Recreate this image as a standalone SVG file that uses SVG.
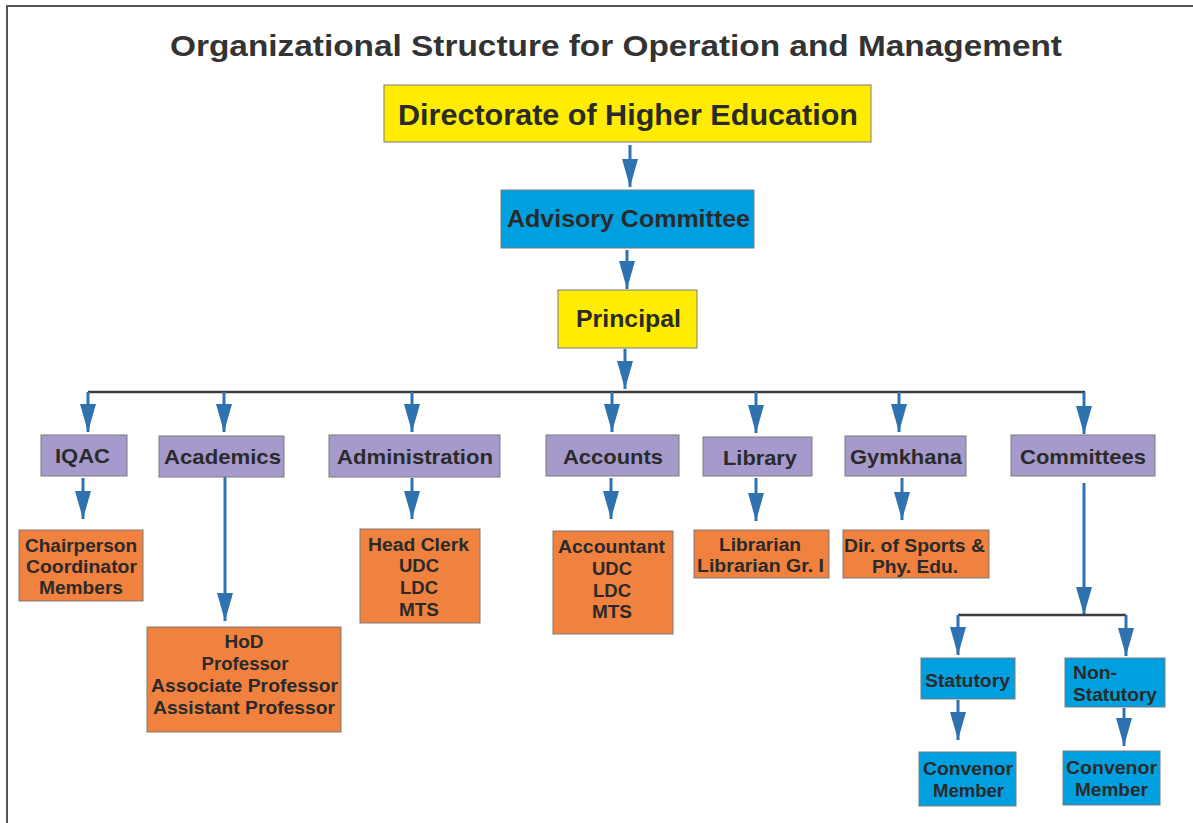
<svg xmlns="http://www.w3.org/2000/svg" width="1193" height="823" viewBox="0 0 1193 823">
  <defs>
    <marker id="arrow" markerUnits="userSpaceOnUse" viewBox="0 0 28 16" refX="28" refY="8" markerWidth="28" markerHeight="16" orient="auto">
      <path d="M0,0 L28,8 L0,16 z" fill="#2E72B0"/>
    </marker>
    <style>
      text { font-family: "Liberation Sans", Arial, sans-serif; font-weight: bold; fill: #2a2a2a; text-anchor: middle; }
      .box { stroke: #7a7a7a; stroke-width: 1; }
      .yellow { fill: #FFEC00; }
      .blue { fill: #00A0E0; }
      .purple { fill: #A59ACB; }
      .orange { fill: #F0813F; }
      .arr { stroke: #2E72B0; stroke-width: 3; fill: none; marker-end: url(#arrow); }
      .bus { stroke: #3c3c3c; stroke-width: 2.5; fill: none; }
      .t1 { font-size: 21px; }
      .t2 { font-size: 18px; }
      .t3 { font-size: 18px; }
    </style>
  </defs>

  <rect width="1193" height="823" fill="#ffffff"/>
  <!-- page frame -->
  <path d="M7,823 V6 H1193" fill="none" stroke="#555" stroke-width="2"/>

  <text x="616" y="56" style="font-size:30px;fill:#333" textLength="892" lengthAdjust="spacingAndGlyphs">Organizational Structure for Operation and Management</text>

  <!-- connectors -->
  <g id="connectors">
    <line class="arr" x1="630" y1="145" x2="630" y2="187"/>
    <line class="arr" x1="627" y1="250" x2="627" y2="289"/>
    <line class="arr" x1="625" y1="349" x2="625" y2="389"/>
    <path class="bus" d="M88,392 H1085"/>
    <line class="arr" x1="88" y1="392" x2="88" y2="432"/>
    <line class="arr" x1="224" y1="392" x2="224" y2="432"/>
    <line class="arr" x1="412" y1="392" x2="412" y2="432"/>
    <line class="arr" x1="612" y1="392" x2="612" y2="432"/>
    <line class="arr" x1="756" y1="392" x2="756" y2="433"/>
    <line class="arr" x1="899" y1="392" x2="899" y2="432"/>
    <line class="arr" x1="1084" y1="392" x2="1084" y2="434"/>

    <line class="arr" x1="83" y1="478" x2="83" y2="519"/>
    <line class="arr" x1="225" y1="477" x2="225" y2="621"/>
    <line class="arr" x1="412" y1="478" x2="412" y2="519"/>
    <line class="arr" x1="611" y1="478" x2="611" y2="519"/>
    <line class="arr" x1="756" y1="478" x2="756" y2="521"/>
    <line class="arr" x1="902" y1="478" x2="902" y2="520"/>
    <line class="arr" x1="1084" y1="483" x2="1084" y2="615"/>

    <path class="bus" d="M958,615 H1126"/>
    <line class="arr" x1="958" y1="615" x2="958" y2="655"/>
    <line class="arr" x1="1126" y1="615" x2="1126" y2="656"/>
    <line class="arr" x1="958" y1="700" x2="958" y2="740"/>
    <line class="arr" x1="1124" y1="708" x2="1124" y2="746"/>
  </g>

  <g id="directorate">
    <rect class="box yellow" x="384" y="85" width="487" height="57"/>
    <text x="628" y="125" style="font-size:29px" textLength="460" lengthAdjust="spacingAndGlyphs">Directorate of Higher Education</text>
  </g>
  <g id="advisory">
    <rect class="box blue" x="501" y="190" width="253" height="58"/>
    <text x="628.5" y="227" style="font-size:23px" textLength="243" lengthAdjust="spacingAndGlyphs">Advisory Committee</text>
  </g>
  <g id="principal">
    <rect class="box yellow" x="558" y="290" width="139" height="58"/>
    <text x="628.5" y="327" style="font-size:23px" textLength="105" lengthAdjust="spacingAndGlyphs">Principal</text>
  </g>

  <g id="iqac">
    <rect class="box purple" x="41" y="435" width="86" height="41"/>
    <text class="t1" x="82.5" y="463" textLength="55" lengthAdjust="spacingAndGlyphs">IQAC</text>
  </g>
  <g id="academics">
    <rect class="box purple" x="159" y="436" width="125" height="41"/>
    <text class="t1" x="222.5" y="464" textLength="117" lengthAdjust="spacingAndGlyphs">Academics</text>
  </g>
  <g id="administration">
    <rect class="box purple" x="329" y="435" width="171" height="42"/>
    <text class="t1" x="415" y="464" textLength="156" lengthAdjust="spacingAndGlyphs">Administration</text>
  </g>
  <g id="accounts">
    <rect class="box purple" x="546" y="435" width="133" height="41"/>
    <text class="t1" x="613" y="464" textLength="100" lengthAdjust="spacingAndGlyphs">Accounts</text>
  </g>
  <g id="library">
    <rect class="box purple" x="703" y="437" width="109" height="39"/>
    <text class="t1" x="760" y="465" textLength="74" lengthAdjust="spacingAndGlyphs">Library</text>
  </g>
  <g id="gymkhana">
    <rect class="box purple" x="845" y="436" width="121" height="40"/>
    <text class="t1" x="906" y="464" textLength="112" lengthAdjust="spacingAndGlyphs">Gymkhana</text>
  </g>
  <g id="committees">
    <rect class="box purple" x="1011" y="435" width="144" height="41"/>
    <text class="t1" x="1083" y="464" textLength="126" lengthAdjust="spacingAndGlyphs">Committees</text>
  </g>

  <g id="iqac-staff">
    <rect class="box orange" x="19" y="530" width="124" height="71"/>
    <text class="t2" x="81" y="552" textLength="112" lengthAdjust="spacingAndGlyphs">Chairperson</text>
    <text class="t2" x="81.5" y="573" textLength="111" lengthAdjust="spacingAndGlyphs">Coordinator</text>
    <text class="t2" x="81" y="594" textLength="84" lengthAdjust="spacingAndGlyphs">Members</text>
  </g>
  <g id="academic-staff">
    <rect class="box orange" x="147" y="627" width="194" height="105"/>
    <text class="t2" x="244" y="648" textLength="39" lengthAdjust="spacingAndGlyphs">HoD</text>
    <text class="t2" x="245" y="670" textLength="87" lengthAdjust="spacingAndGlyphs">Professor</text>
    <text class="t2" x="244.5" y="692" textLength="187" lengthAdjust="spacingAndGlyphs">Associate Professor</text>
    <text class="t2" x="244" y="714" textLength="182" lengthAdjust="spacingAndGlyphs">Assistant Professor</text>
  </g>
  <g id="admin-staff">
    <rect class="box orange" x="360" y="529" width="120" height="94"/>
    <text class="t2" x="418.5" y="551" textLength="101" lengthAdjust="spacingAndGlyphs">Head Clerk</text>
    <text class="t2" x="419" y="572" textLength="40" lengthAdjust="spacingAndGlyphs">UDC</text>
    <text class="t2" x="419" y="594" textLength="38" lengthAdjust="spacingAndGlyphs">LDC</text>
    <text class="t2" x="419" y="616" textLength="40" lengthAdjust="spacingAndGlyphs">MTS</text>
  </g>
  <g id="accounts-staff">
    <rect class="box orange" x="553" y="531" width="120" height="103"/>
    <text class="t2" x="611.5" y="553" textLength="107" lengthAdjust="spacingAndGlyphs">Accountant</text>
    <text class="t2" x="612" y="575" textLength="40" lengthAdjust="spacingAndGlyphs">UDC</text>
    <text class="t2" x="612" y="597" textLength="38" lengthAdjust="spacingAndGlyphs">LDC</text>
    <text class="t2" x="612" y="618" textLength="40" lengthAdjust="spacingAndGlyphs">MTS</text>
  </g>
  <g id="library-staff">
    <rect class="box orange" x="694" y="530" width="135" height="48"/>
    <text class="t2" x="760" y="551" textLength="82" lengthAdjust="spacingAndGlyphs">Librarian</text>
    <text class="t2" x="760.5" y="572" textLength="127" lengthAdjust="spacingAndGlyphs">Librarian Gr. I</text>
  </g>
  <g id="sports-staff">
    <rect class="box orange" x="843" y="530" width="146" height="48"/>
    <text class="t2" x="914.5" y="552" textLength="141" lengthAdjust="spacingAndGlyphs">Dir. of Sports &amp;</text>
    <text class="t2" x="915" y="573" textLength="86" lengthAdjust="spacingAndGlyphs">Phy. Edu.</text>
  </g>

  <g id="statutory">
    <rect class="box blue" x="921" y="658" width="94" height="41"/>
    <text class="t3" x="967.5" y="687" textLength="85" lengthAdjust="spacingAndGlyphs">Statutory</text>
  </g>
  <g id="non-statutory">
    <rect class="box blue" x="1065" y="658" width="100" height="49"/>
    <text class="t3" x="1073" y="679" style="text-anchor:start" textLength="44" lengthAdjust="spacingAndGlyphs">Non-</text>
    <text class="t3" x="1073" y="701" style="text-anchor:start" textLength="84" lengthAdjust="spacingAndGlyphs">Statutory</text>
  </g>
  <g id="statutory-members">
    <rect class="box blue" x="919" y="752" width="97" height="54"/>
    <text class="t3" x="968" y="775" textLength="90" lengthAdjust="spacingAndGlyphs">Convenor</text>
    <text class="t3" x="968.5" y="797" textLength="71" lengthAdjust="spacingAndGlyphs">Member</text>
  </g>
  <g id="non-statutory-members">
    <rect class="box blue" x="1063" y="751" width="97" height="54"/>
    <text class="t3" x="1111.5" y="774" textLength="91" lengthAdjust="spacingAndGlyphs">Convenor</text>
    <text class="t3" x="1111.5" y="796" textLength="73" lengthAdjust="spacingAndGlyphs">Member</text>
  </g>
</svg>
